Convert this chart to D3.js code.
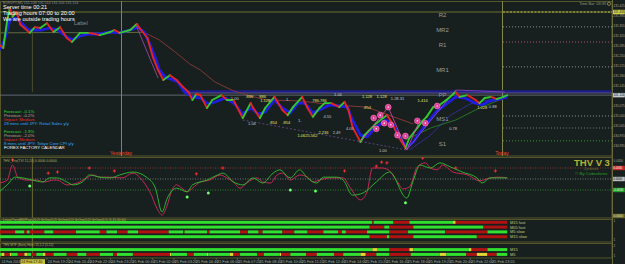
<!DOCTYPE html>
<html><head><meta charset="utf-8">
<script src="https://cdnjs.cloudflare.com/ajax/libs/d3/7.8.5/d3.min.js"></script>
<style>
html,body{margin:0;padding:0;background:#17201f;}
svg{display:block;font-family:"Liberation Sans",Arial,sans-serif;}
</style></head><body>
<svg id="c" width="625" height="264"></svg>
<script>
// ---------------- DATA ----------------
// price path [bar index (M5 bars from 24 Feb 16:20), price]
const pricePath = [[0,131.290],[3,131.279],[6,131.377],[8,131.419],[10,131.388],[13,131.405],[16,131.360],[19,131.349],[23,131.332],[27,131.352],[31,131.349],[36,131.366],[41,131.335],[46,131.352],[51,131.314],[55,131.300],[61,131.332],[68,131.332],[76,131.324],[84,131.335],[87,131.342],[91,131.332],[99,131.342],[104,131.363],[106,131.349],[112,131.314],[116,131.248],[120,131.202],[124,131.167],[129,131.184],[134,131.167],[139,131.142],[143,131.125],[146,131.097],[149,131.118],[152,131.114],[157,131.069],[161,131.097],[168,131.114],[172,131.097],[177,131.097],[184,131.034],[190,131.086],[192,131.069],[197,131.034],[201,131.069],[208,131.108],[214,131.062],[218,131.044],[222,131.072],[229,131.108],[233,131.069],[237,131.038],[242,131.069],[246,131.086],[251,131.086],[257,131.072],[261,131.090],[264,131.062],[267,131.002],[273,130.950],[276,130.974],[280,130.992],[285,131.016],[293,131.044],[297,131.016],[301,130.974],[307,130.929],[310,130.964],[316,130.999],[320,131.024],[323,131.038],[328,131.072],[333,131.080],[338,131.097],[345,131.125],[348,131.108],[354,131.114],[360,131.097],[363,131.086],[367,131.104],[372,131.108],[376,131.100],[381,131.108],[384,131.114]];
const blueBand = [[0,131.272],[4,131.307],[8,131.377],[12,131.384],[16,131.370],[22,131.342],[27,131.342],[32,131.342],[38,131.349],[44,131.342],[50,131.321],[55,131.307],[61,131.321],[68,131.328],[76,131.328],[84,131.335],[91,131.332],[99,131.342],[105,131.352],[110,131.332],[114,131.290],[118,131.244],[121,131.202],[126,131.174],[130,131.170],[135,131.160],[140,131.125],[146,131.108],[152,131.104],[158,131.083],[163,131.090],[171,131.104],[178,131.083],[184,131.048],[190,131.069],[196,131.048],[201,131.055],[208,131.097],[214,131.069],[220,131.052],[226,131.086],[231,131.086],[237,131.052],[242,131.062],[250,131.080],[257,131.076],[263,131.072],[267,131.027],[273,130.974],[278,130.968],[284,130.999],[292,131.027],[298,131.010],[303,130.964],[308,130.932],[313,130.950],[318,130.985],[324,131.020],[330,131.055],[337,131.080],[345,131.108],[352,131.104],[360,131.086],[365,131.080],[371,131.094],[378,131.100],[384,131.108]];
const flatMA = [[0,131.332],[40,131.333],[80,131.332],[109,131.334]];
const slowMA = [[109,131.335],[121,131.307],[133,131.265],[144,131.223],[152,131.202],[163,131.160],[177,131.129],[190,131.111],[202,131.097],[227,131.094],[252,131.080],[278,131.072],[298,131.038],[313,131.013]];
const greenMA = [[307,130.957],[326,130.999],[345,131.027],[363,131.069],[384,131.108]];
const navyMA = [[310,130.922],[326,130.974],[341,131.044],[356,131.083],[384,131.111]];
const zigzag1 = [[103,131.363],[120,131.174]];
const zigzag2 = [[308,130.922],[345,131.132],[382,131.125]];
const harmonic = [[273,130.950],[294,131.072],[308,130.922],[318,131.027]];
const trendDashed = [[184,131.027],[308,130.922]];
const pinkDots = [[283,131.034],[285,130.996],[288,131.044],[291,131.016],[294,131.072],[296,131.010],[301,130.974],[307,130.971],[316,131.024],[322,131.016],[331,131.076]];
const fibYellow = [[".886",189,131.108],["886",199,131.110],["1.128",201,131.094],[".854",207,131.020],[".854",217,131.020],["786.786",242,131.094],["1.128",278,131.111],["1.128",289,131.111],[".854",278,131.072],["2.236",245,130.982],["1.0625.562",233,130.974],["1.414",320,131.094],["1.028",365,131.072]];
const fibWhite = [["1.00",178,131.104],["1.",218,131.100],["1.04",256,131.118],["1.28.31",301,131.104],["4.55",248,131.038],["1.04",191,131.016],["1.",227,131.024],["2.49",255,130.982],["4.00",265,130.999],["1.00",290,130.922],["0.88",373,131.076],["0.78",343,130.999]];
const pivotNames = ["R2","MR2","R1","MR1","PP","MS1","S1"];
const pivotValues = [131.405,131.353,131.300,131.213,131.125,131.041,130.954];
const extraLevel = 130.999;
const currentPrice = 131.114;
const priceTicks = ["131.425","131.390","131.355","131.320","131.285","131.250","131.215","131.180","131.145","131.075","131.040","131.005","130.970","130.935"];
const dayBreaks = [["Yesterday","2016-02-25 00:00"],["Today","2016-02-26 00:00"]];
const timeTicks = ["24 Feb 19:20","24 Feb 20:40","24 Feb 22:00","24 Feb 23:20","25 Feb 00:40","25 Feb 02:00","25 Feb 03:20","25 Feb 04:40","25 Feb 06:00","25 Feb 07:20","25 Feb 08:40","25 Feb 10:00","25 Feb 11:20","25 Feb 12:40","25 Feb 14:00","25 Feb 15:20","25 Feb 16:40","25 Feb 18:00","25 Feb 19:20","25 Feb 20:40","25 Feb 22:00","25 Feb 23:20"];
const calendarLines = [["Forecast: -0.1%","f"],["Previous: -0.2%","p"],["Impact: Medium","i"],["28 mins until JPY: Retail Sales y/y","m"],["",""],["Forecast: -1.9%","f"],["Previous: -2.0%","p"],["Impact: Medium","i"],["8 mins until JPY: Tokyo Core CPI y/y","m"],["FOREX FACTORY CALENDAR","t"]];
const infoLines = ["Server time 00:21","Trading hours 07:00 to 20:00","We are outside trading hours"];
// oscillator (units of 0.0001)
const oscRed = [[0,-11],[6,-3],[10,38],[14,5],[21,-3],[28,-3],[34,-8],[41,-3],[44,-3],[51,-16],[59,-11],[66,3],[71,11],[76,5],[84,5],[93,3],[101,16],[109,-8],[115,-44],[119,-79],[123,-98],[127,-71],[130,-35],[134,-16],[138,-25],[142,-35],[146,-25],[152,-8],[159,-3],[167,11],[172,3],[177,-8],[182,-25],[187,-11],[195,3],[199,-8],[205,-11],[210,11],[214,16],[220,-3],[227,11],[233,5],[237,-8],[242,-3],[250,3],[260,3],[265,-22],[273,-57],[278,-35],[282,30],[289,30],[294,25],[301,-8],[305,-27],[310,-22],[316,33],[322,44],[326,30],[331,25],[335,38],[343,19],[354,11],[363,-5],[371,3],[378,5],[384,3]];
const oscGreen = [[0,-35],[6,-16],[12,5],[18,3],[25,-3],[33,-8],[38,3],[44,3],[51,-8],[56,-16],[63,-8],[68,11],[76,5],[84,3],[91,11],[101,19],[112,3],[118,-25],[123,-90],[127,-52],[134,-25],[142,-35],[146,-16],[157,-3],[165,11],[169,16],[177,-8],[184,-16],[192,3],[199,-11],[207,16],[212,25],[220,3],[227,25],[233,3],[240,-11],[245,5],[255,5],[260,-3],[267,-44],[275,-38],[285,-8],[295,19],[308,-52],[313,-3],[318,38],[326,30],[333,44],[341,33],[350,19],[361,3],[365,-11],[371,3],[376,3],[384,3]];
const oscSell = [[10,52],[37,16],[44,19],[68,30],[87,22],[149,14],[169,30],[261,22],[285,35],[289,46],[293,44],[320,57],[345,30],[375,22]];
const oscBuy = [[23,-19],[142,-49],[158,-38],[220,-30],[239,-33],[307,-65]];
const oscLevels = [30,0,-30];
const oscLevelLabels = ["0.0030","0.0000","-0.0030"];
// signal bars [startBar, endBar, state]
const trendRows = ["M15 fast","M05 fast","M5 slow","M15 slow"];
const trendSegs = [
 [[0,282,'g'],[282,283,'r'],[283,298,'g'],[298,310,'r'],[310,343,'g'],[343,345,'y'],[345,384,'r']],
 [[0,280,'g'],[280,291,'r'],[291,295,'g'],[295,313,'r'],[313,366,'g'],[366,384,'r']],
 [[0,12,'r'],[12,19,'g'],[19,21,'r'],[21,23,'g'],[23,34,'r'],[34,41,'g'],[41,58,'r'],[58,76,'g'],[76,81,'r'],[81,89,'g'],[89,97,'r'],[97,105,'g'],[105,128,'r'],[128,139,'g'],[139,140,'r'],[140,157,'g'],[157,159,'r'],[159,182,'g'],[182,188,'r'],[188,196,'g'],[196,199,'r'],[199,214,'g'],[214,223,'r'],[223,233,'g'],[233,245,'r'],[245,256,'g'],[256,259,'r'],[259,262,'g'],[262,278,'r'],[278,295,'g'],[295,309,'r'],[309,337,'g'],[337,369,'r'],[369,384,'g']],
 [[0,280,'g'],[280,293,'r'],[293,295,'g'],[295,313,'r'],[313,361,'g'],[361,384,'r']]
];
const mtfRows = ["M15","M5"];
const mtfSegs = [
 [[0,282,'g'],[282,286,'y'],[286,295,'g'],[295,310,'r'],[310,313,'y'],[313,355,'g'],[355,357,'y'],[357,369,'r'],[369,384,'g']],
 [[0,2,'g'],[2,4,'y'],[4,8,'r'],[8,9,'y'],[9,14,'g'],[14,19,'r'],[19,21,'y'],[21,24,'g'],[24,28,'r'],[28,33,'g'],[33,35,'y'],[35,41,'r'],[41,51,'g'],[51,59,'r'],[59,66,'g'],[66,76,'r'],[76,86,'g'],[86,89,'r'],[89,101,'g'],[101,129,'r'],[129,130,'y'],[130,142,'g'],[142,147,'r'],[147,157,'g'],[157,158,'y'],[158,174,'g'],[174,177,'y'],[177,182,'r'],[182,195,'g'],[195,200,'r'],[200,212,'g'],[212,213,'y'],[213,220,'r'],[220,232,'g'],[232,240,'r'],[240,253,'g'],[253,260,'r'],[260,273,'g'],[273,277,'y'],[277,285,'r'],[285,295,'g'],[295,311,'r'],[311,333,'g'],[333,338,'y'],[338,353,'g'],[353,361,'r'],[361,369,'y'],[369,376,'r'],[376,384,'g']]
];

// ---------------- SCALES ----------------
const svg = d3.select("#c");
const AX = 612;
const parseT = d3.timeParse("%Y-%m-%d %H:%M");
const parseTick = d3.timeParse("%Y %d %b %H:%M");
const base = parseT("2016-02-24 16:20");
const barOf = t => (t - base) / 300000;
const x = d3.scaleLinear().domain([92, 380]).range([121, 502]);
const y = d3.scaleLinear().domain([130.901, 131.440]).range([156, 2]);
const yo = d3.scaleLinear().domain([-30, 30]).range([190, 168]);
const yTrend = d3.scalePoint().domain(trendRows).range([222.3, 236.7]);
const yMtf = d3.scalePoint().domain(mtfRows).range([249.6, 254.4]);
const segColor = {g:"#2fe02f", r:"#b01212", y:"#e0d830"};

svg.append("rect").attr("width",625).attr("height",264).attr("fill","#17201f");
const defs = svg.append("defs");
defs.append("clipPath").attr("id","cm").append("rect").attr("x",0).attr("y",1).attr("width",AX).attr("height",155);
defs.append("clipPath").attr("id","c1").append("rect").attr("x",0).attr("y",157).attr("width",AX).attr("height",61);

// panel frames
[[1,156],[157,218],[219,242],[243,258]].forEach(([a,b])=>{
  svg.append("rect").attr("x",0.5).attr("y",a+0.5).attr("width",AX-0.5).attr("height",b-a-0.5)
    .attr("fill","none").attr("stroke","#55552c").attr("stroke-width",1);
});

const main = svg.append("g").attr("clip-path","url(#cm)");
const line = d3.line().x(d=>x(d[0])).y(d=>y(d[1]));

// R2 / daily high olive line
main.append("line").attr("x1",0).attr("x2",AX).attr("y1",y(pivotValues[0])).attr("y2",y(pivotValues[0]))
  .attr("stroke","#6f6f2c").attr("stroke-width",1);
// vertical guide lines
main.append("line").attr("x1",x(25)).attr("x2",x(25)).attr("y1",30).attr("y2",92).attr("stroke","#4e4e2a");
dayBreaks.forEach(([lab,t])=>{
  const b = barOf(parseT(t));
  main.append("line").attr("x1",x(b)+0.5).attr("x2",x(b)+0.5).attr("y1",1).attr("y2",156).attr("stroke","#858545").attr("stroke-width",1);
});
// pivot dotted levels (today)
const todayBar = barOf(parseT(dayBreaks[1][1]));
const pivStyle = {R2:["#c8c84a","2,1.5"],MR2:["#9a9a9a","1,2"],R1:["#b86070","1,2"],MR1:["#9a9a9a","1,2"],MS1:["#9a9a9a","1,2"],S1:["#40a040","1,2"]};
pivotNames.forEach((n,i)=>{
  if(n==="PP") return;
  main.append("line").attr("x1",x(todayBar)+1).attr("x2",AX).attr("y1",y(pivotValues[i])).attr("y2",y(pivotValues[i]))
    .attr("stroke",pivStyle[n][0]).attr("stroke-dasharray",pivStyle[n][1]).attr("stroke-width",0.9);
});
main.append("line").attr("x1",x(todayBar)+1).attr("x2",AX).attr("y1",y(extraLevel)).attr("y2",y(extraLevel))
  .attr("stroke","#8a8a8a").attr("stroke-dasharray","1,2").attr("stroke-width",0.8);
// PP blue band
const ppV = pivotValues[pivotNames.indexOf("PP")];
main.append("line").attr("x1",x(140)).attr("x2",AX).attr("y1",y(ppV)-0.5).attr("y2",y(ppV)-0.5)
  .attr("stroke","#1c1c8c").attr("stroke-width",2.4);
main.append("line").attr("x1",x(140)).attr("x2",AX).attr("y1",y(ppV)+1).attr("y2",y(ppV)+1)
  .attr("stroke","#8a7ab8").attr("stroke-width",0.6);
// bid line
main.append("line").attr("x1",0).attr("x2",AX).attr("y1",y(currentPrice)).attr("y2",y(currentPrice))
  .attr("stroke","#7e8592").attr("stroke-width",0.7);
// pivot labels
pivotNames.forEach((n,i)=>{
  main.append("text").attr("x",x(335)).attr("y",y(pivotValues[i])+5).attr("text-anchor","middle")
    .attr("font-size",6).attr("fill",n==="PP"?"#8f8fa8":"#9c9c9c").text(n);
});
// moving averages
main.append("path").attr("d",line(flatMA)).attr("fill","none").attr("stroke","#5f6a40").attr("stroke-width",1);
main.append("path").attr("d",line(slowMA)).attr("fill","none").attr("stroke","#8c3a3a").attr("stroke-width",0.9);
main.append("path").attr("d",line(navyMA)).attr("fill","none").attr("stroke","#30309a").attr("stroke-width",0.9);
main.append("path").attr("d",line(greenMA)).attr("fill","none").attr("stroke","#2a7a2a").attr("stroke-width",0.9);
// blue band
main.append("path").attr("d",line(blueBand)).attr("fill","none").attr("stroke","#1e1ee0").attr("stroke-width",2.8).attr("stroke-linejoin","round");
// zigzag / pattern lines
main.append("path").attr("d",line(trendDashed)).attr("fill","none").attr("stroke","#8a5ab0").attr("stroke-width",0.6).attr("stroke-dasharray","2,2");
main.append("path").attr("d",line(zigzag1)).attr("fill","none").attr("stroke","#b050d0").attr("stroke-width",0.7);
main.append("path").attr("d",line(zigzag2)).attr("fill","none").attr("stroke","#a050d0").attr("stroke-width",0.7);
// price segments
for(let i=0;i<pricePath.length-1;i++){
  const a=pricePath[i], b=pricePath[i+1];
  main.append("line").attr("x1",x(a[0])).attr("y1",y(a[1])).attr("x2",x(b[0])).attr("y2",y(b[1]))
    .attr("stroke", b[1]>=a[1] ? "#33c833" : "#e42424").attr("stroke-width",1.9).attr("stroke-linecap","round");
}
main.append("path").attr("d",line(harmonic)).attr("fill","none").attr("stroke","#e048b0").attr("stroke-width",0.8);
// pink dots
pinkDots.forEach(d=>{
  main.append("circle").attr("cx",x(d[0])).attr("cy",y(d[1])).attr("r",2.9).attr("fill","#e33d98").attr("stroke","#ff8cc8").attr("stroke-width",0.5);
  main.append("circle").attr("cx",x(d[0])).attr("cy",y(d[1])).attr("r",0.8).attr("fill","#ffe0f0");
});
// fib labels
fibYellow.forEach(d=>main.append("text").attr("x",x(d[1])).attr("y",y(d[2])+1.5).attr("font-size",4).attr("fill","#e6e070").attr("text-anchor","middle").text(d[0]));
fibWhite.forEach(d=>main.append("text").attr("x",x(d[1])).attr("y",y(d[2])+1.5).attr("font-size",4).attr("fill","#c8c8c8").attr("text-anchor","middle").text(d[0]));

// header texts
svg.append("text").attr("x",3).attr("y",4).attr("font-size",3.6).attr("fill","#8a8a8a").text("EURJPY,M5  131.108 131.114 131.104 131.114");
infoLines.forEach((t,i)=>svg.append("text").attr("x",3).attr("y",9.3+i*6).attr("font-size",5.6).attr("fill","#ffffff").text(t));
svg.append("text").attr("x",74).attr("y",24.5).attr("font-size",5.6).attr("fill","#8c8c8c").text("Label");
svg.append("text").attr("x",606).attr("y",5).attr("font-size",3.8).attr("fill","#9a9a7a").attr("text-anchor","end").text("Time Bar: 03:39");
svg.append("circle").attr("cx",609).attr("cy",3.8).attr("r",1.6).attr("fill","none").attr("stroke","#c8c060").attr("stroke-width",0.6);
const calColor = {f:"#33dd33",p:"#c8a090",i:"#e02828",m:"#35a8ff",t:"#ffffff"};
calendarLines.forEach((d,i)=>{
  if(!d[0]) return;
  svg.append("text").attr("x",4).attr("y",113+i*4.05).attr("font-size",4.3).attr("fill",calColor[d[1]]).text(d[0]);
});
dayBreaks.forEach(([lab,t])=>{
  svg.append("text").attr("x",x(barOf(parseT(t)))).attr("y",155).attr("text-anchor","middle").attr("font-size",5).attr("fill","#ff4422").text(lab);
});

// right price axis
svg.append("line").attr("x1",AX+0.5).attr("x2",AX+0.5).attr("y1",0).attr("y2",264).attr("stroke","#6a6a3a");
priceTicks.forEach(t=>{
  const yy = y(+t);
  svg.append("line").attr("x1",AX).attr("x2",AX+1.5).attr("y1",yy).attr("y2",yy).attr("stroke","#8a8a6a").attr("stroke-width",0.5);
  svg.append("text").attr("x",AX+1.6).attr("y",yy+1.2).attr("font-size",3.1).attr("fill","#a9a9a0").text(t);
});
[[pivotValues[0],"#d2d24a","#1a1a1a"],[currentPrice,"#c8c8c8","#111111"]].forEach(([v,bg,fg])=>{
  svg.append("rect").attr("x",AX+1).attr("y",y(v)-2.2).attr("width",11.8).attr("height",4.4).attr("fill",bg);
  svg.append("text").attr("x",AX+1.4).attr("y",y(v)+1.2).attr("font-size",3.1).attr("fill",fg).text(v.toFixed(3));
});

// ---------------- PANEL 1 (THV oscillator) ----------------
const p1 = svg.append("g").attr("clip-path","url(#c1)");
const lvlCol = ["#a83a3a","#8a8a8a","#2e9a2e"];
oscLevels.forEach((v,i)=>p1.append("line").attr("x1",0).attr("x2",AX).attr("y1",yo(v)).attr("y2",yo(v))
  .attr("stroke",lvlCol[i]).attr("stroke-dasharray","1,1.5").attr("stroke-width",0.8));
p1.append("line").attr("x1",x(25)).attr("x2",x(25)).attr("y1",157).attr("y2",218).attr("stroke","#6a6a35");
const oline = d3.line().x(d=>x(d[0])).y(d=>yo(d[1])).curve(d3.curveMonotoneX);
p1.append("path").attr("d",oline(oscRed)).attr("fill","none").attr("stroke","#d8285a").attr("stroke-width",0.9);
p1.append("path").attr("d",oline(oscGreen)).attr("fill","none").attr("stroke","#2fc02f").attr("stroke-width",0.9);
oscSell.forEach(d=>{
  const cx=x(d[0]), cy=yo(d[1]);
  p1.append("path").attr("d",`M${cx-1.6},${cy}H${cx+1.6}M${cx},${cy-1.6}V${cy+1.6}`).attr("stroke","#f03030").attr("stroke-width",1);
});
oscBuy.forEach(d=>{
  const cx=x(d[0]), cy=yo(d[1]);
  p1.append("circle").attr("cx",cx).attr("cy",cy).attr("r",1.5).attr("fill","#3cf03c");
  p1.append("path").attr("d",`M${cx-1.3},${cy}H${cx+1.3}M${cx},${cy-1.3}V${cy+1.3}`).attr("stroke","#dfffdf").attr("stroke-width",0.4);
});
svg.append("text").attr("x",3).attr("y",161.5).attr("font-size",3.4).attr("fill","#b0b060").text("THV_Trix(TVI 15,20) 0.0000 0.0000");
svg.append("text").attr("x",574).attr("y",165.5).attr("font-size",9.5).attr("font-weight","bold").attr("fill","#b4b42e").text("THV V 3");
svg.append("text").attr("x",584).attr("y",170).attr("font-size",3.6).attr("fill","#6c6c30").text("Zpisbook");
svg.append("text").attr("x",575).attr("y",175).attr("font-size",4.4).attr("fill","#2a9e2a").text("© By Cobraforex");
// panel 1 axis
svg.append("text").attr("x",AX+1.6).attr("y",yo(50)+1.2).attr("font-size",3.1).attr("fill","#a9a9a0").text("0.0050");
const boxCol = [["#c82a2a","#ffffff"],["#bdbdbd","#111111"],["#22a022","#e8ffe8"]];
oscLevels.forEach((v,i)=>{
  svg.append("rect").attr("x",AX+1).attr("y",yo(v)-2.2).attr("width",11.8).attr("height",4.4).attr("fill",boxCol[i][0]);
  svg.append("text").attr("x",AX+1.3).attr("y",yo(v)+1.2).attr("font-size",2.9).attr("fill",boxCol[i][1]).text(oscLevelLabels[i]);
});

// ---------------- PANEL 2 / 3 (signal bars) ----------------
svg.append("line").attr("x1",x(25)).attr("x2",x(25)).attr("y1",219).attr("y2",258).attr("stroke","#6a6a35");
trendRows.forEach((r,i)=>{
  trendSegs[i].forEach(s=>svg.append("rect").attr("x",x(s[0])).attr("width",Math.max(0.8,x(s[1])-x(s[0])))
    .attr("y",yTrend(r)-1.5).attr("height",3).attr("fill",segColor[s[2]]));
  svg.append("text").attr("x",x(386)).attr("y",yTrend(r)+1.4).attr("font-size",4).attr("fill","#c8c87a").text(r);
});
mtfRows.forEach((r,i)=>{
  mtfSegs[i].forEach(s=>svg.append("rect").attr("x",x(s[0])).attr("width",Math.max(0.8,x(s[1])-x(s[0])))
    .attr("y",yMtf(r)-1.5).attr("height",3).attr("fill",segColor[s[2]]));
  svg.append("text").attr("x",x(386)).attr("y",yMtf(r)+1.4).attr("font-size",4).attr("fill","#c8c87a").text(r);
});
svg.append("text").attr("x",3).attr("y",221).attr("font-size",3.2).attr("fill","#b0b060").text("LinearTrendMtf(Fast 20,2) GrOne(0,2) GrOne(0,1) GrOne(0,2) GrOne(0,1) (5,15,30,60)");
svg.append("text").attr("x",3).attr("y",246.3).attr("font-size",3.2).attr("fill","#b0b060").text("THV MTF (Bars) Heiki 15,1,2 (5,15)");
[["0.0000",216],["1",221],["1",240],["2",246],["1",256]].forEach(([t,yy],i)=>{
  if(i===0){svg.append("rect").attr("x",AX+1).attr("y",yy-2.2).attr("width",11.8).attr("height",4.4).attr("fill","#6a6a30");}
  svg.append("text").attr("x",AX+1.6).attr("y",yy+1.2).attr("font-size",3.1).attr("fill",i===0?"#e0e0a0":"#a9a9a0").text(t);
});

// ---------------- TIME AXIS ----------------
svg.append("text").attr("x",1.5).attr("y",263).attr("font-size",3.4).attr("fill","#a9a9a0").text("24 Feb 2016");
svg.append("rect").attr("x",20.5).attr("y",259.2).attr("width",24.5).attr("height",4.8).attr("fill","#c8c040");
svg.append("text").attr("x",21.2).attr("y",263).attr("font-size",3.6).attr("fill","#202010").text("24 Feb 17:40");
timeTicks.forEach(t=>{
  const b = barOf(parseTick("2016 " + t));
  const xx = x(b);
  svg.append("line").attr("x1",xx).attr("x2",xx).attr("y1",258).attr("y2",260).attr("stroke","#8a8a6a").attr("stroke-width",0.5);
  svg.append("text").attr("x",xx+0.8).attr("y",263).attr("font-size",3.8).attr("fill","#a9a9a0").text(t);
});
</script>
</body></html>
